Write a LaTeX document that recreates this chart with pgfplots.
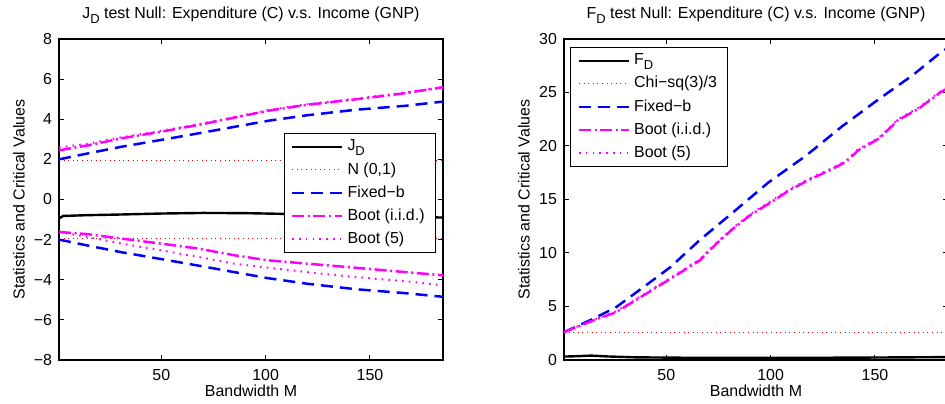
\documentclass[border=0pt]{standalone}
\usepackage{fontspec}
\setmainfont{Liberation Sans}
\usepackage{pgfplots}
\pgfplotsset{compat=1.18}

\definecolor{mred}{rgb}{1,0,0}
\definecolor{mblue}{rgb}{0,0,1}
\definecolor{mmag}{rgb}{1,0,1}
\newcommand{\sub}[1]{\raisebox{-2.2bp}{\fontsize{6.5}{7}\selectfont #1}}

\pgfplotsset{
  matstyle/.style={
    width=192bp, height=160.5bp, scale only axis,
    xmin=1, xmax=185,
    xtick={50,100,150},
    tick align=inside, tick pos=both,
    major tick length=2.5bp,
    axis line style={line width=0.6bp},
    tick style={line width=0.5bp, black},
    /pgf/number format/assume math mode=true,
    tick label style={font=\fontsize{8}{9}\selectfont},
    every axis title/.style={font=\fontsize{8}{9}\selectfont, at={(axis description cs:0.5,1)}, anchor=base, yshift=10bp},
    every axis x label/.style={font=\fontsize{8}{9}\selectfont, at={(axis description cs:0.5,0)}, anchor=center, yshift=-15.5bp},
    every axis y label/.style={font=\fontsize{8}{9}\selectfont, at={(axis description cs:0,0.5)}, anchor=center, rotate=90, yshift=20bp},
    xticklabel style={yshift=-1bp},
    xlabel={Bandwidth M},
    ylabel={Statistics and Critical Values},
    legend cell align=left,
    legend style={font=\fontsize{8}{9}\selectfont, draw=black, line width=0.5bp,
      fill=white, inner xsep=3.5bp, inner ysep=1.2bp, row sep=0.3bp},
    legend image code/.code={\draw[#1] (0bp,0bp) -- (25bp,0bp);},
  },
  stat/.style={black, line width=1.2bp},
  crit/.style={mred, line width=0.5bp, dash pattern=on 0.5bp off 1.8bp},
  fixb/.style={mblue, line width=1.25bp, dash pattern=on 6bp off 3.5bp},
  bootiid/.style={mmag, line width=1.25bp, dash pattern=on 6bp off 1.8bp on 1bp off 1.8bp},
  bootfive/.style={mmag, line width=1bp, dash pattern=on 0.8bp off 2.6bp},
}

\begin{document}
\begin{tikzpicture}
% left panel: J_D
\begin{axis}[matstyle,
  name=left,
  ymin=-8, ymax=8,
  ytick={-8,-6,-4,-2,0,2,4,6,8},
  yticklabels={−8,−6,−4,−2,0,2,4,6,8},
  title={J\sub{D} test Null: Expenditure (C) v.s. Income (GNP)},
  legend style={at={(0.982,0.707)}, anchor=north east},
]
\addplot[stat] coordinates {
  (1,-0.95) (3,-0.82) (15,-0.78) (30,-0.75) (50,-0.70) (70,-0.67) (90,-0.68)
  (110,-0.72) (130,-0.78) (150,-0.83) (170,-0.87) (185,-0.90)
};
\addlegendentry{J\sub{D}}
\addplot[crit] coordinates {(1,1.96) (185,1.96)};
\addlegendentry{N (0,1)}
\addplot[fixb] coordinates {
  (1,2.00) (15,2.30) (31,2.63) (50,2.97) (68,3.30) (85,3.62) (101,3.92)
  (120,4.20) (143,4.47) (167,4.67) (185,4.88)
};
\addlegendentry{Fixed−b}
\addplot[bootiid] coordinates {
  (1,2.45) (15,2.70) (31,3.05) (50,3.38) (68,3.72) (85,4.08) (101,4.42)
  (120,4.72) (143,4.99) (167,5.30) (185,5.60)
};
\addlegendentry{Boot (i.i.d.)}
\addplot[bootfive] coordinates {
  (1,2.60) (15,2.78) (31,3.10) (50,3.42) (68,3.76) (85,4.10) (101,4.45)
  (120,4.75) (143,5.02) (167,5.33) (185,5.58)
};
\addlegendentry{Boot (5)}
% lower bands
\addplot[crit, forget plot] coordinates {(1,-1.96) (185,-1.96)};
\addplot[fixb, forget plot] coordinates {
  (1,-2.00) (15,-2.30) (31,-2.63) (50,-2.97) (68,-3.30) (85,-3.62) (101,-3.92)
  (120,-4.20) (143,-4.47) (167,-4.67) (185,-4.85)
};
\addplot[bootiid, forget plot] coordinates {
  (1,-1.62) (15,-1.73) (31,-1.95) (50,-2.20) (68,-2.45) (85,-2.78) (101,-3.03)
  (120,-3.20) (143,-3.40) (167,-3.62) (185,-3.78)
};
\addplot[bootfive, forget plot] coordinates {
  (1,-1.62) (15,-1.87) (31,-2.20) (50,-2.53) (68,-2.87) (85,-3.20) (101,-3.40)
  (120,-3.62) (143,-3.87) (167,-4.07) (185,-4.28)
};
\end{axis}

% right panel: F_D
\begin{axis}[matstyle,
  at={(252.5bp,0)},
  ymin=0, ymax=30,
  ytick={0,5,10,15,20,25,30},
  title={F\sub{D} test Null: Expenditure (C) v.s. Income (GNP)},
  legend style={at={(0.016,0.975)}, anchor=north west},
]
\addplot[stat] coordinates {
  (1,0.32) (8,0.36) (14,0.41) (22,0.33) (35,0.25) (60,0.21) (100,0.20)
  (140,0.22) (185,0.27)
};
\addlegendentry{F\sub{D}}
\addplot[crit] coordinates {(1,2.6) (185,2.6)};
\addlegendentry{Chi−sq(3)/3}
\addplot[fixb] coordinates {
  (1,2.60) (15,3.85) (26,4.94) (39,6.80) (52,8.68) (66,11.2) (82,13.8)
  (99,16.6) (117,19.1) (134,21.8) (152,24.4) (168,26.6) (180,28.5) (185,29.2)
};
\addlegendentry{Fixed−b}
\addplot[bootiid] coordinates {
  (1,2.60) (15,3.69) (26,4.47) (39,6.03) (52,7.59) (66,9.30) (74,10.87)
  (82,12.27) (90,13.5) (99,14.6) (109,15.86) (118,16.8) (128,17.7) (136,18.5)
  (142,19.6) (152,20.7) (161,22.4) (171,23.5) (182,25.1) (185,25.4)
};
\addlegendentry{Boot (i.i.d.)}
\addplot[bootfive] coordinates {
  (1,2.60) (15,3.75) (26,4.55) (39,6.10) (52,7.68) (66,9.40) (74,10.95)
  (82,12.35) (90,13.6) (99,14.7) (109,15.95) (118,16.9) (128,17.8) (136,18.6)
  (142,19.7) (152,20.8) (161,22.5) (171,23.6) (182,25.2) (185,25.5)
};
\addlegendentry{Boot (5)}
\end{axis}

\pgfresetboundingbox
\useasboundingbox (-29.5bp,-22bp) rectangle (443bp,180bp);
\end{tikzpicture}
\end{document}
